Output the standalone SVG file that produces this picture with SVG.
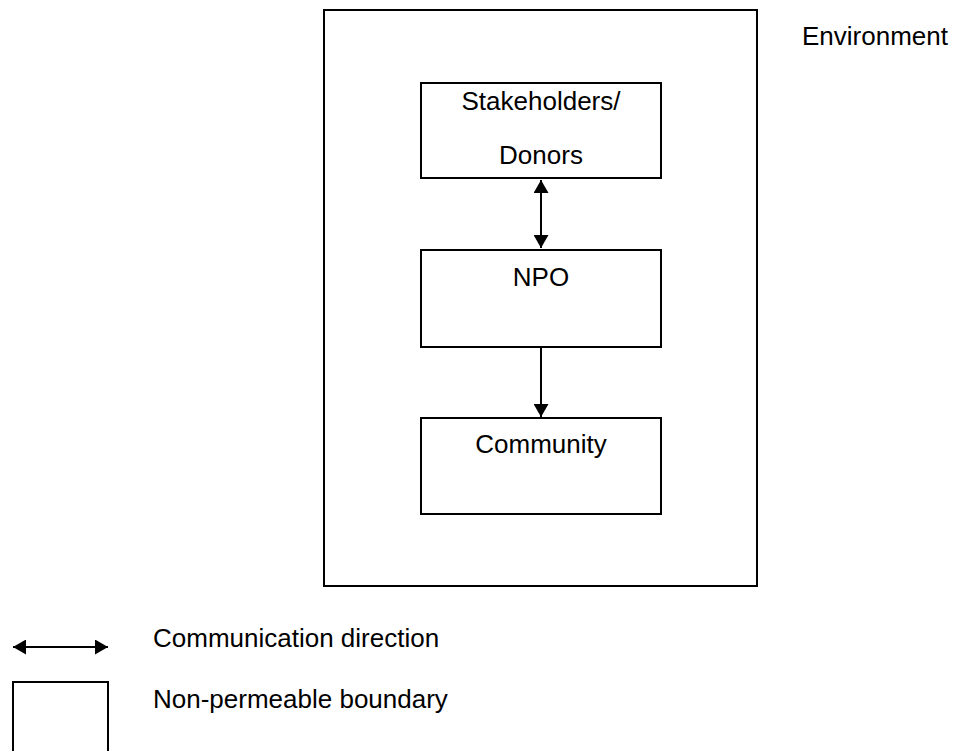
<svg xmlns="http://www.w3.org/2000/svg" width="953" height="751" viewBox="0 0 953 751">
<defs>
<style>
.box{fill:#fff;stroke:#000;stroke-width:2}
.t{font-family:"Liberation Sans",Arial,sans-serif;font-size:26px;fill:#000}
.c{text-anchor:middle}
.ln{stroke:#000;stroke-width:2;fill:none}
</style>
<marker id="ah" viewBox="0 0 13 15" refX="13" refY="7.5" markerWidth="6.5" markerHeight="7.5" markerUnits="strokeWidth" orient="auto-start-reverse">
<path d="M0,0 L13,7.5 L0,15 Z" fill="#000"/>
</marker>
</defs>
<rect width="953" height="751" fill="#fff"/>
<g id="environment">
<rect class="box" x="324" y="10" width="433" height="576"/>
<text class="t" x="802" y="45">Environment</text>
</g>
<g id="stakeholders">
<rect class="box" x="421" y="83" width="240" height="95"/>
<text class="t c" x="541" y="110">Stakeholders/</text>
<text class="t c" x="541" y="164">Donors</text>
</g>
<g id="npo">
<rect class="box" x="421" y="250" width="240" height="97"/>
<text class="t c" x="541" y="286">NPO</text>
</g>
<g id="community">
<rect class="box" x="421" y="418" width="240" height="96"/>
<text class="t c" x="541" y="453">Community</text>
</g>
<g id="connectors">
<line class="ln" x1="541" y1="180" x2="541" y2="248" marker-start="url(#ah)" marker-end="url(#ah)"/>
<line class="ln" x1="541" y1="348" x2="541" y2="417" marker-end="url(#ah)"/>
</g>
<g id="legend">
<line class="ln" x1="13" y1="647" x2="108" y2="647" marker-start="url(#ah)" marker-end="url(#ah)"/>
<text class="t" x="153" y="647">Communication direction</text>
<rect class="box" x="13" y="682" width="95" height="80"/>
<text class="t" x="153" y="708">Non-permeable boundary</text>
</g>
</svg>
